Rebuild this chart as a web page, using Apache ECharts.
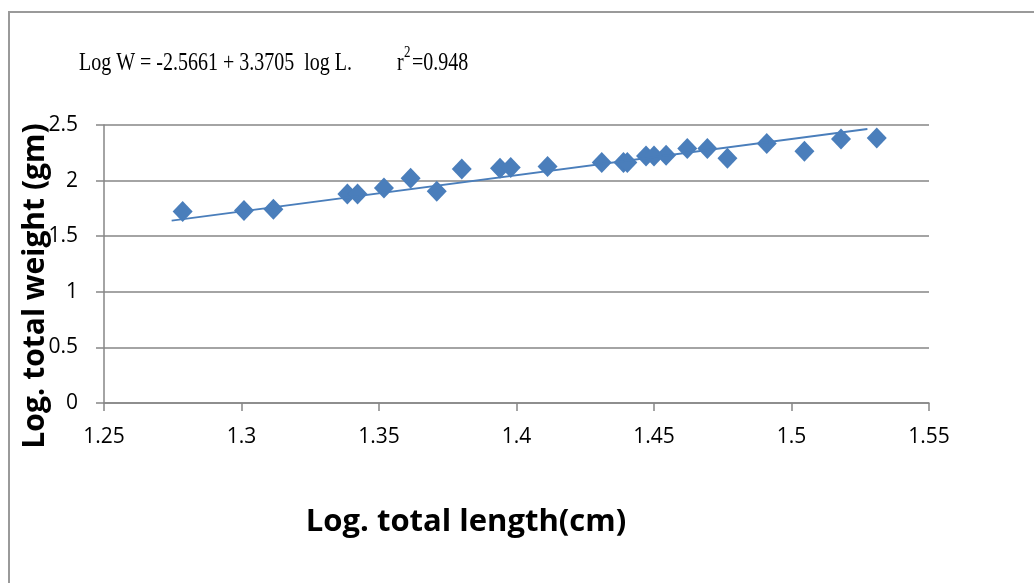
<!DOCTYPE html>
<html lang="en">
<head>
    <meta charset="UTF-8">
    <title>Length-weight relationship</title>
    <script src="https://cdn.jsdelivr.net/npm/echarts@6/dist/echarts.min.js"></script>
    <style>
        html, body { margin: 0; padding: 0; background: #fff; }
        #main { width: 1034px; height: 583px; }
    </style>
</head>
<body>
<div id="main"></div>
<script>
    // log total length (cm) of each fish
    var logLength = [1.2786, 1.3009, 1.3116, 1.3385, 1.3422, 1.3518, 1.3615, 1.3710, 1.3801,
        1.3940, 1.3979, 1.4113, 1.4310, 1.4389, 1.4403, 1.4471, 1.4500, 1.4544, 1.4621,
        1.4694, 1.4767, 1.4910, 1.5047, 1.5180, 1.5310];
    // log total weight (gm)
    var logWeight = [1.721, 1.730, 1.743, 1.880, 1.880, 1.934, 2.021, 1.904, 2.105,
        2.111, 2.117, 2.126, 2.162, 2.162, 2.162, 2.222, 2.222, 2.228, 2.288,
        2.288, 2.201, 2.333, 2.264, 2.375, 2.384];
    // fitted line ends as drawn
    var trendX = [1.2746, 1.5276];
    var trendY = [1.641, 2.464];

    var xTicks = {min: 1.25, max: 1.55, step: 0.05};
    var yTicks = {min: 0, max: 2.5, step: 0.5};

    var pts = logLength.map(function (v, i) {
        return [v, logWeight[i]];
    });
    var trend = trendX.map(function (v, i) {
        return [v, trendY[i]];
    });

    var gray = '#868686';
    var blue = '#4a7ebb';
    var serif = '"Liberation Serif", "Times New Roman", serif';

    var chart = echarts.init(document.getElementById('main'));
    var option = {
        animation: false,
        grid: {left: 104, right: 105, top: 125, bottom: 180},
        xAxis: {
            type: 'value',
            min: xTicks.min, max: xTicks.max, interval: xTicks.step,
            axisLine: {lineStyle: {color: gray, width: 1.5}},
            axisTick: {show: true, length: 8, lineStyle: {color: gray, width: 1.5}},
            splitLine: {show: false},
            axisLabel: {margin: 24, color: '#000', fontFamily: 'Open Sans', fontSize: 21}
        },
        yAxis: {
            type: 'value',
            min: yTicks.min, max: yTicks.max, interval: yTicks.step,
            axisLine: {show: true, lineStyle: {color: gray, width: 1.5}},
            axisTick: {show: true, length: 8, lineStyle: {color: gray, width: 1.5}},
            splitLine: {lineStyle: {color: gray, width: 1.5}},
            axisLabel: {margin: 26, color: '#000', fontFamily: 'Open Sans', fontSize: 21}
        },
        graphic: [
            {
                type: 'rect', silent: true, z: -1,
                shape: {x: 9, y: 12, width: 1100, height: 700},
                style: {fill: null, stroke: '#9a9a9a', lineWidth: 2}
            },
            // equation, drawn a bit taller than wide like the original
            {
                type: 'text', x: 79, y: 63.5, scaleY: 1.28,
                style: {
                    text: 'Log W = -2.5661 + 3.3705  log L.',
                    font: '20px ' + serif, fill: '#000',
                    verticalAlign: 'middle'
                }
            },
            {
                type: 'text', x: 397, y: 63.5, scaleY: 1.28,
                style: {text: 'r', font: '20px ' + serif, fill: '#000', verticalAlign: 'middle'}
            },
            {
                type: 'text', x: 404, y: 52.5, scaleY: 1.28,
                style: {text: '2', font: '13px ' + serif, fill: '#000', verticalAlign: 'middle'}
            },
            {
                type: 'text', x: 412, y: 63.5, scaleY: 1.28,
                style: {text: '=0.948', font: '20px ' + serif, fill: '#000', verticalAlign: 'middle'}
            },
            {
                type: 'text', x: 35, y: 286, rotation: Math.PI / 2,
                style: {
                    text: 'Log. total weight (gm)',
                    font: 'bold 30px "Open Sans"', fill: '#000',
                    align: 'center', verticalAlign: 'middle'
                }
            },
            {
                type: 'text', x: 466, y: 522,
                style: {
                    text: 'Log. total length(cm)',
                    font: 'bold 31px "Open Sans"', fill: '#000',
                    align: 'center', verticalAlign: 'middle'
                }
            }
        ],
        series: [
            {
                type: 'line',
                data: trend,
                showSymbol: false,
                lineStyle: {color: blue, width: 1.8},
                z: 3
            },
            {
                type: 'scatter',
                data: pts,
                symbol: 'diamond',
                symbolSize: [20, 21],
                itemStyle: {color: blue, opacity: 1},
                z: 2
            }
        ]
    };
    chart.setOption(option);
</script>
</body>
</html>
